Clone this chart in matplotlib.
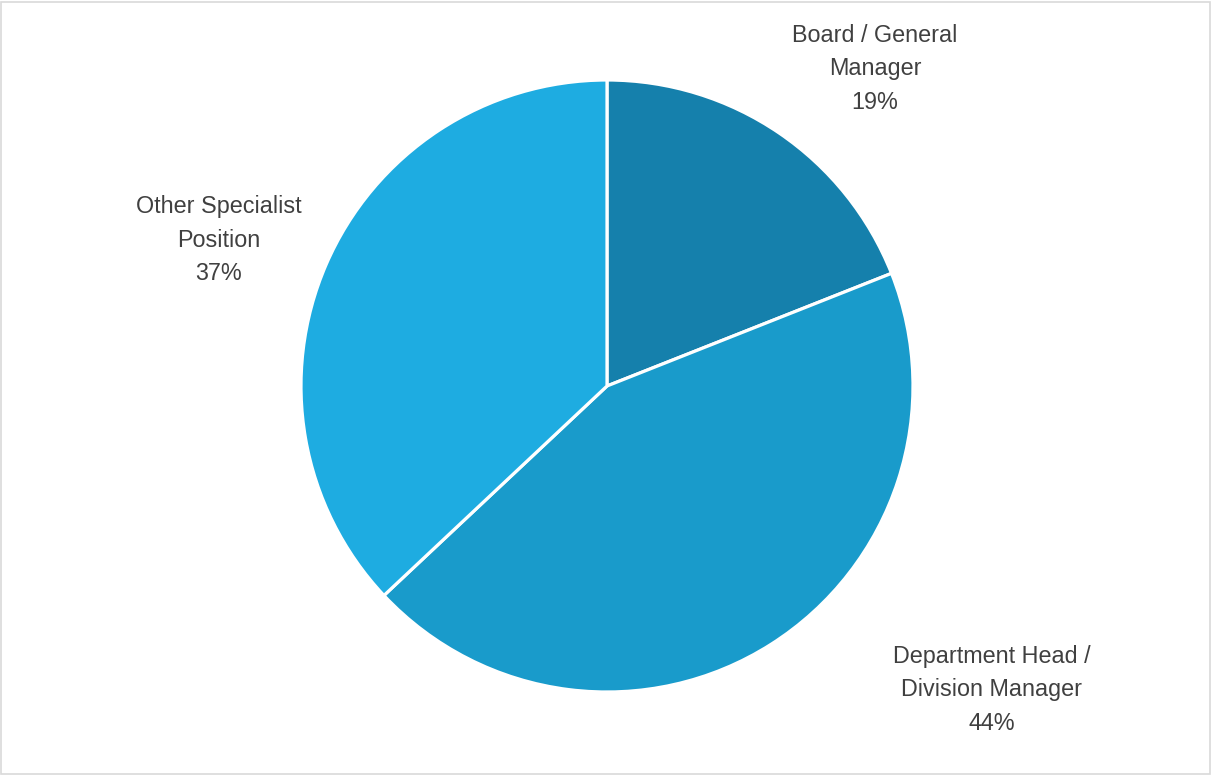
import matplotlib.pyplot as plt
from matplotlib.patches import Rectangle

categories = ["Board / General\nManager", "Department Head /\nDivision Manager", "Other Specialist\nPosition"]
shares = [19, 44, 37]
colors = ["#1580AC", "#199BCB", "#1EACE1"]
label_pos = [(0.876, 1.036), (1.258, -0.993), (-1.268, 0.477)]

plt.rcParams['font.family'] = ['Liberation Sans Narrow', 'Liberation Sans', 'DejaVu Sans']

fig = plt.figure(figsize=(12.12, 7.75), dpi=100)
W, H = 1212, 775
cx, cy, r = 607, 386, 306
ax = fig.add_axes([(cx - r) / W, (H - cy - r) / H, 2 * r / W, 2 * r / H])

ax.pie(shares, colors=colors, startangle=90, counterclock=False, radius=1,
       wedgeprops=dict(edgecolor="white", linewidth=2.3))
ax.set_xlim(-1, 1)
ax.set_ylim(-1, 1)
ax.set_aspect("auto")
ax.axis("off")

for cat, val, (x, y) in zip(categories, shares, label_pos):
    ax.text(x, y, f"{cat}\n{val}%", ha="center", va="center", fontsize=16.8,
            color="#404040", linespacing=1.6, clip_on=False)

fig.patches.append(Rectangle((1 / W, 1 / H), 1 - 3 / W, 1 - 3 / H, transform=fig.transFigure,
                             fill=False, edgecolor="#D9D9D9", linewidth=1.2))

fig.savefig("out.png", dpi=100)
